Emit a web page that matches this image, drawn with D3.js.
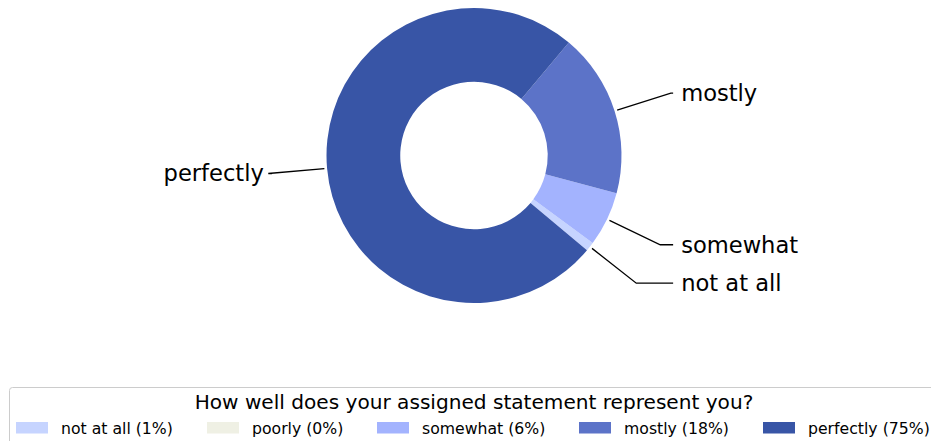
<!DOCTYPE html>
<html>
<head>
<meta charset="utf-8">
<script src="https://cdn.jsdelivr.net/npm/d3@7"></script>
<style>
  html, body { margin: 0; padding: 0; background: #fff; }
  svg { display: block; font-family: "DejaVu Sans", sans-serif; }
</style>
</head>
<body>
<svg id="chart" width="931" height="441"></svg>
<script>
const categories = ["not at all", "poorly", "somewhat", "mostly", "perfectly"];
const values = [1, 0, 6, 18, 75];
const percentLabels = ["1%", "0%", "6%", "18%", "75%"];
const colors = ["#c6d4ff", "#eff0e4", "#a3b3fe", "#5c73c8", "#3855a6"];
const legendTitle = "How well does your assigned statement represent you?";

const svg = d3.select("#chart");
const cx = 474, cy = 155.5, R = 147.5, r0 = R * 0.5;

const data = categories.map((c, i) => ({ cat: c, value: values[i], color: colors[i], pct: percentLabels[i] }));

const deg = Math.PI / 180;
const pie = d3.pie().sort(null).value(d => d.value)
  .startAngle(130 * deg).endAngle(130 * deg - 2 * Math.PI);
const arcs = pie(data);
const arc = d3.arc().innerRadius(r0).outerRadius(R);

const g = svg.append("g").attr("transform", `translate(${cx},${cy})`);
g.selectAll("path.slice").data(arcs.filter(a => a.data.value > 0)).enter()
  .append("path").attr("class", "slice")
  .attr("d", arc)
  .attr("fill", d => d.data.color);

// labels with elbow leader lines
const labelG = g.append("g");
arcs.filter(a => a.data.value > 0).forEach(a => {
  const mid = (a.startAngle + a.endAngle) / 2;
  const ux = Math.sin(mid), uy = -Math.cos(mid);
  const sx = ux * (R + 2.7), sy = uy * (R + 2.7);
  const ty = uy * R * 1.4;
  const side = ux >= 0 ? 1 : -1;
  const tx = side * R * 1.35 - (side < 0 ? 3 : 0);
  const t = (ty - uy * R) / uy;
  const ex = ux * (R + t);
  labelG.append("polyline")
    .attr("points", `${sx},${sy} ${ex},${ty} ${tx},${ty}`)
    .attr("fill", "none").attr("stroke", "#000").attr("stroke-width", 1.3);
  labelG.append("text")
    .attr("x", tx + side * 8)
    .attr("y", ty + 7.8)
    .attr("text-anchor", side > 0 ? "start" : "end")
    .attr("font-size", "22.6px")
    .attr("fill", "#000")
    .text(a.data.cat);
});

// legend
const legend = svg.append("g");
legend.append("rect")
  .attr("x", 9.5).attr("y", 387.5).attr("width", 929).attr("height", 80)
  .attr("rx", 3).attr("fill", "#fff").attr("stroke", "#cccccc").attr("stroke-width", 1);
legend.append("text")
  .attr("x", cx).attr("y", 409)
  .attr("text-anchor", "middle").attr("font-size", "20.1px").attr("fill", "#000")
  .text(legendTitle);

const patchX = [16, 207, 377, 579, 763];
const items = legend.selectAll("g.item").data(data).enter().append("g").attr("class", "item")
  .attr("transform", (d, i) => `translate(${patchX[i]},0)`);
items.append("rect").attr("x", 0).attr("y", 422).attr("width", 32).attr("height", 11.5)
  .attr("fill", d => d.color);
items.append("text").attr("x", 45).attr("y", 433.5)
  .attr("font-size", "15.7px").attr("fill", "#000")
  .text(d => `${d.cat} (${d.pct})`);
</script>
</body>
</html>
